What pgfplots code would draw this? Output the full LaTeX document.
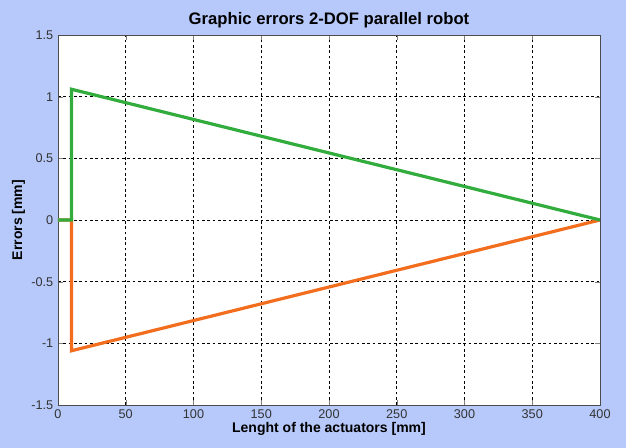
\documentclass[border=0pt]{standalone}
\usepackage{pgfplots}
\pgfplotsset{compat=1.18}
\usepackage{fontspec}
\setmainfont{Liberation Sans}
\definecolor{bgblue}{RGB}{183,201,250}
\definecolor{errgreen}{RGB}{50,172,60}
\definecolor{errorange}{RGB}{242,110,30}
\begin{document}
\begin{tikzpicture}
\path[use as bounding box, fill=bgblue] (-43.5pt,-32.25pt) rectangle (426pt,303.75pt);
\begin{axis}[
  at={(0,0)}, anchor=south west,
  scale only axis,
  width=406.5pt, height=277.5pt,
  xmin=0, xmax=400, ymin=-1.5, ymax=1.5,
  xtick={0,50,...,400},
  ytick={-1.5,-1,...,1.5},
  yticklabels={-1.5,-1,-0.5,0,0.5,1,1.5},
  tick align=inside,
  tick pos=both,
  major tick length=4pt,
  grid=major,
  major grid style={black, dash pattern=on 2pt off 2pt, line width=0.5pt},
  axis line style={black!70, line width=0.6pt},
  axis background/.style={fill=white},
  tick label style={font=\fontsize{9.5}{10}\selectfont, text=black!80},
  /pgf/number format/assume math mode=true,
  title={\bfseries Graphic errors 2-DOF parallel robot},
  title style={font=\fontsize{12.5}{14}\selectfont, yshift=-4pt},
  xlabel={\bfseries Lenght of the actuators [mm]},
  ylabel={\bfseries Errors [mm]},
  xlabel style={font=\fontsize{10.5}{12}\selectfont, yshift=4pt},
  ylabel style={font=\fontsize{10.5}{12}\selectfont, yshift=-2pt},
]
\addplot[errorange, line width=2.4pt, line join=miter] coordinates {
  (0,0) (10,0) (10,-1.06) (400,0)
};
\addplot[errgreen, line width=2.4pt, line join=miter] coordinates {
  (0,0) (10,0) (10,1.06) (400,0)
};
\end{axis}
\end{tikzpicture}
\end{document}
